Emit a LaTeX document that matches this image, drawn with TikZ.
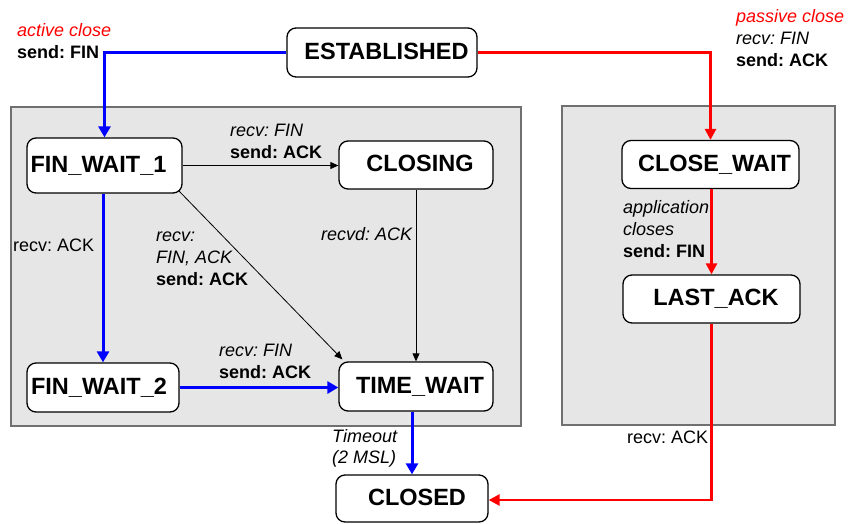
\documentclass[tikz,border=0pt]{standalone}
\usepackage{fontspec}
\setmainfont{Liberation Sans}
\usetikzlibrary{arrows.meta,calc}
\definecolor{boxgray}{HTML}{E6E6E6}
\definecolor{boxedge}{HTML}{707070}
\definecolor{myred}{HTML}{FF0000}
\definecolor{myblue}{HTML}{0000FF}
\frenchspacing
\begin{document}
\begin{tikzpicture}[x=1pt,y=-1pt,
  state/.style={draw=black, line width=1.3pt, rounded corners=9pt, fill=white,
    font=\fontsize{23.5}{26}\selectfont\bfseries, inner sep=0pt,
    text height=16.8pt, text depth=3pt},
  lbl/.style={anchor=base west, align=left, inner sep=0pt,
    font=\fontsize{18}{21.5}\selectfont},
  region/.style={draw=boxedge, line width=1.4pt, fill=boxgray},
  blueflow/.style={draw=myblue, line width=3pt, -{Triangle[length=11pt,width=12pt]}},
  redflow/.style={draw=myred, line width=2.6pt, -{Triangle[length=11pt,width=11pt]}},
  thinflow/.style={draw=black, line width=0.8pt, -{Triangle[length=8pt,width=7pt]}},
]
\useasboundingbox (0,0) rectangle (852,523);

% grey regions
\draw[region] (11,107) rectangle (521,426);
\draw[region] (562,106) rectangle (835,425);

% states
\node[state, minimum width=190pt, minimum height=49pt] (est) at (382,52.5) {\hspace*{9pt}ESTABLISHED};
\node[state, minimum width=155pt, minimum height=55pt] (fw1) at (104.5,165.5) {FIN\_WAIT\_1\hspace*{12pt}};
\node[state, minimum width=154pt, minimum height=48pt] (closing) at (416,165) {\hspace*{8pt}CLOSING};
\node[state, minimum width=152pt, minimum height=49pt] (fw2) at (103,387.5) {FIN\_WAIT\_2\hspace*{8pt}};
\node[state, minimum width=154pt, minimum height=49pt] (tw) at (416,386.5) {\hspace*{8pt}TIME\_WAIT};
\node[state, minimum width=152pt, minimum height=47pt] (closed) at (412,498.5) {\hspace*{10pt}CLOSED};
\node[state, minimum width=177pt, minimum height=48pt] (cw) at (710.5,164.5) {\hspace*{8pt}CLOSE\_WAIT};
\node[state, minimum width=177pt, minimum height=48pt] (la) at (711.5,299) {\hspace*{9pt}LAST\_ACK};

% labels (anchor = baseline of the last line)
\node[lbl] (lactive) at (17,58) {\textcolor{myred}{\itshape active close}\\\textbf{send: FIN}};
\node[lbl, font=\fontsize{18}{22}\selectfont] (lpassive) at (736,66) {\textcolor{myred}{\itshape passive close}\\\textit{recv: FIN}\\\textbf{send: ACK}};
\node[lbl] (lfin1) at (230,158) {\textit{recv: FIN}\\\textbf{send: ACK}};
\node[lbl] (lack1) at (13,251) {recv: ACK};
\node[lbl, font=\fontsize{18}{22}\selectfont] (ldiag) at (156,285) {\textit{recv:}\\\textit{FIN, ACK}\\\textbf{send: ACK}};
\node[lbl] (lrecvd) at (321,240) {\textit{recvd: ACK}};
\node[lbl] (lfin2) at (219,378) {\textit{recv: FIN}\\\textbf{send: ACK}};
\node[lbl, font=\fontsize{18}{21}\selectfont] (ltime) at (332,463) {\textit{Timeout}\\\textit{(2 MSL)}};
\node[lbl, font=\fontsize{18}{22}\selectfont] (lapp) at (623,257) {\textit{application}\\\textit{closes}\\\textbf{send: FIN}};
\node[lbl] (lack2) at (627,443) {recv: ACK};

% connectors
\draw[blueflow] (est.west) -| (fw1.north);
\draw[redflow] (est.east) -| (cw.north);
\draw[thinflow] (fw1.east) -- (fw1.east -| closing.west);
\draw[blueflow] (fw1.south -| fw2.north) -- (fw2.north);
\draw[thinflow] ($(fw1.south east)+(-4,-3)$) -- ($(tw.north west)+(4,-2)$);
\draw[thinflow] (closing.south) -- (closing.south |- tw.north);
\draw[blueflow] (fw2.east) -- (fw2.east -| tw.west);
\draw[blueflow] (tw.south -| closed.north) -- (closed.north);
\draw[redflow] (cw.south -| la.north) -- (la.north);
\draw[redflow] (la.south) |- ($(closed.east)+(0,1.5)$);
\end{tikzpicture}
\end{document}
